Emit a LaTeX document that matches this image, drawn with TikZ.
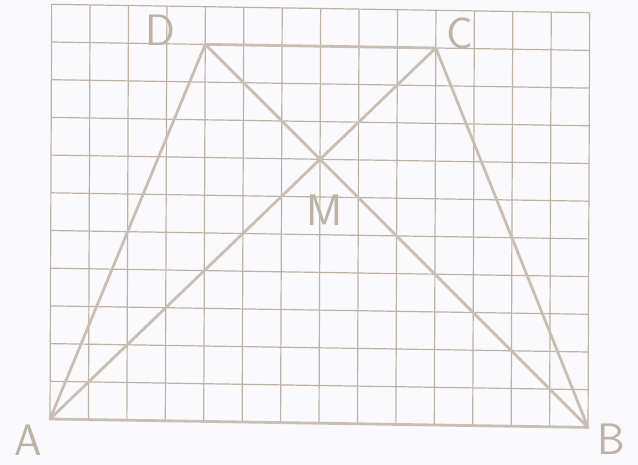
\documentclass[tikz,border=0pt]{standalone}
\definecolor{gridcol}{RGB}{188,178,166}
\definecolor{edgecol}{RGB}{200,190,180}
\definecolor{labcol}{RGB}{188,178,166}
\definecolor{paper}{RGB}{250,250,252}
\tikzset{
  gridline/.style={draw=gridcol, line width=1.2pt},
  edge/.style={draw=edgecol, line width=2.8pt, line cap=round, line join=round},
  lab/.style={text=labcol, font=\sffamily\fontsize{44}{44}\selectfont, inner sep=0pt, anchor=center}
}
\begin{document}
\begin{tikzpicture}[x=1pt,y=-1pt]
\fill[paper] (0,0) rectangle (638,465);
\useasboundingbox (0,0) rectangle (638,465);
\begin{scope}[shift={(50pt,-419pt)}, x={(38.43pt,-0.6pt)}, y={(0.15pt,37.7pt)}]
  \foreach \i in {0,...,14} \draw[gridline] (\i,0) -- (\i,11);
  \foreach \j in {0,...,11} \draw[gridline] (0,\j) -- (14,\j);
  \coordinate (A) at (0,0);
  \coordinate (B) at (14,0);
  \coordinate (C) at (10,10);
  \coordinate (D) at (4,10);
  \draw[edge] (A) -- (B) -- (C) -- (D) -- cycle;
  \draw[edge] (A) -- (C);
  \draw[edge] (B) -- (D);
  \coordinate (M) at (7,7);
\end{scope}
\node[lab] (lA) at (28,440) {A};
\node[lab] (lB) at (611,439) {B};
\node[lab] (lC) at (460,33) {C};
\node[lab] (lD) at (160,30) {D};
\node[lab] (lM) at (325,210) {M};
\end{tikzpicture}
\end{document}
